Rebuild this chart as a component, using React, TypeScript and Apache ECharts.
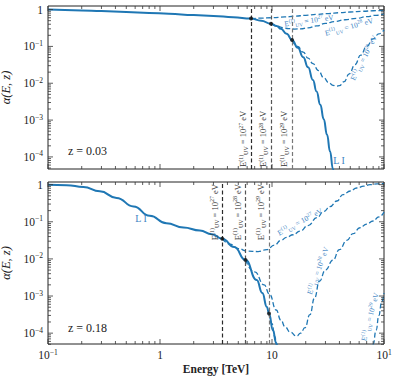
import React, { useEffect, useRef } from 'react';
import * as echarts from 'echarts';

const BLUE = '#1f77b4';
const LABEL_BLUE = '#3d84c4';
const SERIF = '"Liberation Serif", "DejaVu Serif", serif';

// ---------- axes ----------
const X_MIN = 0.1;
const X_MAX = 100;
const X_MAJOR = [0.1, 1, 10, 100];
const X_MINOR = [0.2, 0.3, 0.4, 0.5, 0.6, 0.7, 0.8, 0.9, 2, 3, 4, 5, 6, 7, 8, 9, 20, 30, 40, 50, 60, 70, 80, 90];
const X_LABELS: Record<string, string> = { '-1': '{b|10}{s|−1}', '0': '{b|1}', '1': '{b|10}', '2': '{b|10}{s|1}' };

const Y_MAJOR = [1e-4, 1e-3, 1e-2, 1e-1, 1];
const Y_MINOR = [
  5e-5, 6e-5, 7e-5, 8e-5, 9e-5,
  2e-4, 3e-4, 4e-4, 5e-4, 6e-4, 7e-4, 8e-4, 9e-4,
  2e-3, 3e-3, 4e-3, 5e-3, 6e-3, 7e-3, 8e-3, 9e-3,
  0.02, 0.03, 0.04, 0.05, 0.06, 0.07, 0.08, 0.09,
  0.2, 0.3, 0.4, 0.5, 0.6, 0.7, 0.8, 0.9,
];
const Y_LABELS: Record<string, string> = {
  '0': '{b|1}', '-1': '{b|10}{s|−1}', '-2': '{b|10}{s|−2}', '-3': '{b|10}{s|−3}', '-4': '{b|10}{s|−4}',
};
const TOP_Y_RANGE = [4.7e-5, 1.25];
const BOT_Y_RANGE = [5.1e-5, 1.18];

// ---------- top panel, z = 0.03 ----------
const TOP_LI_E = [0.1, 0.2, 0.3, 0.5, 0.8, 1.2, 2, 3, 4.5, 6.5, 8, 9.8, 11, 12, 13.5, 15.1, 17, 19, 21, 23.2, 25, 27, 29, 31, 33, 35, 37];
const TOP_LI = [1.0, 0.95, 0.91, 0.86, 0.81, 0.77, 0.71, 0.67, 0.62, 0.57, 0.50, 0.41, 0.36, 0.30, 0.22, 0.15, 0.092, 0.051, 0.027, 0.0123, 0.006, 0.0026, 0.00105, 0.0004, 0.00014, 0.000047, 0.000014];
const TOP_D27_E = [6.5, 8, 10, 13, 16, 20, 25, 32, 40, 50, 65, 80, 100];
const TOP_D27 = [0.57, 0.585, 0.60, 0.63, 0.66, 0.70, 0.74, 0.78, 0.82, 0.86, 0.90, 0.93, 0.96];
const TOP_D28_E = [9.8, 11, 12.5, 14, 16, 18, 21, 25, 30, 36, 45, 57, 70, 85, 100];
const TOP_D28 = [0.41, 0.36, 0.325, 0.305, 0.295, 0.30, 0.32, 0.36, 0.42, 0.47, 0.53, 0.58, 0.64, 0.70, 0.76];
const TOP_D29_E = [15.1, 17, 19, 21, 23.2, 26, 29, 32, 35, 37.5, 40, 44, 49, 55, 62, 70, 80, 90, 100];
const TOP_D29 = [0.15, 0.10, 0.07, 0.048, 0.034, 0.022, 0.014, 0.0105, 0.0088, 0.0083, 0.0086, 0.011, 0.018, 0.032, 0.058, 0.10, 0.16, 0.22, 0.28];
const TOP_CUT_E = [6.5, 9.8, 15.1];
const TOP_CUT_VAL = [0.57, 0.41, 0.15];
// curve-label anchors [E, alpha, rotation]
const TOP_LABEL_POS = [[21.4, 0.5, 8], [48.7, 0.34, 15], [66, 0.049, 63]];
const TOP_LI_LABEL = [39.6, 7.9e-5];

// ---------- bottom panel, z = 0.18 ----------
const BOT_LI_E = [0.1, 0.147, 0.207, 0.29, 0.41, 0.58, 0.81, 1.14, 1.62, 2.27, 2.9, 3.6, 4.6, 5.8, 7.3, 8.2, 9.0, 9.4, 10.2, 10.9, 11.5];
const BOT_LI = [1.0, 0.97, 0.87, 0.66, 0.44, 0.26, 0.145, 0.092, 0.07, 0.058, 0.046, 0.035, 0.021, 0.0093, 0.0027, 0.0012, 0.00051, 0.00034, 0.00012, 0.000054, 0.000022];
const BOT_D27_E = [3.6, 4.2, 5, 6, 7.5, 9, 10.5, 12, 13.5, 15.4, 17.8, 21, 25.2, 29, 33, 38, 43, 50, 57, 66, 75, 87, 100];
const BOT_D27 = [0.035, 0.025, 0.019, 0.0162, 0.0158, 0.0178, 0.0234, 0.0316, 0.038, 0.0447, 0.056, 0.079, 0.129, 0.19, 0.257, 0.363, 0.537, 0.676, 0.813, 0.912, 1.0, 1.047, 1.07];
const BOT_D28_E = [5.8, 7, 8.5, 9.5, 10.9, 12, 13.1, 14.5, 16.6, 18, 19.7, 21.8, 24, 26.5, 30, 35, 40, 46.6, 53, 61, 70, 80, 90, 100];
const BOT_D28 = [0.0093, 0.0045, 0.002, 0.00112, 0.00042, 0.000224, 0.000148, 0.000107, 0.000083, 0.0001, 0.000141, 0.000316, 0.00089, 0.0025, 0.005, 0.0093, 0.0178, 0.0316, 0.0479, 0.069, 0.087, 0.105, 0.135, 0.182];
const BOT_D29_E = [9.4, 10, 10.6, 11.2, 12, 13, 20, 40, 60, 70, 75, 80, 85, 90, 95, 100];
const BOT_D29 = [0.00034, 0.00018, 0.00008, 0.00003, 0.00001, 0.000003, 1e-6, 1e-6, 3e-6, 1e-5, 2.5e-5, 5e-5, 1.2e-4, 3e-4, 6.5e-4, 0.0012];
const BOT_CUT_E = [3.6, 5.8, 9.4];
const BOT_CUT_VAL = [0.035, 0.0093, 0.00034];
const BOT_LABEL_POS = [[17.8, 0.1, 28], [25.7, 0.0048, 70], [75, 2.75e-4, 75]];
const BOT_LI_LABEL = [0.676, 0.12];

const CUT_EXP = ['27', '28', '29'];
const CUT_COLORS = ['#2a2a2a', '#555555', '#777777'];

const zip = (xs: number[], ys: number[]) => xs.map((x, i) => [x, ys[i]]);

const euvText = (exp: string) => `{e|E}{p|(1)}{u|UV}{e| = 10}{p|${exp}}{e| eV}`;

const euvRich = (color: string, size: number) => ({
  e: { fontFamily: SERIF, fontSize: size, color, lineHeight: size + 3 },
  p: { fontFamily: SERIF, fontSize: size * 0.7, color, verticalAlign: 'top', lineHeight: size * 0.7 },
  u: { fontFamily: SERIF, fontSize: size * 0.7, color, verticalAlign: 'bottom', lineHeight: size * 0.7 },
});

const tickRich = {
  b: { fontFamily: SERIF, fontSize: 11.5, color: '#222', lineHeight: 14 },
  s: { fontFamily: SERIF, fontSize: 7.5, color: '#222', verticalAlign: 'top', lineHeight: 8 },
};

function tickSeries(idx: number) {
  const data: number[][] = [];
  X_MAJOR.forEach((v) => data.push([v, 0.01, 0, 1]));
  X_MINOR.forEach((v) => data.push([v, 0.01, 0, 0]));
  Y_MAJOR.forEach((v) => data.push([1, v, 1, 1]));
  Y_MINOR.forEach((v) => data.push([1, v, 1, 0]));
  return {
    type: 'custom',
    xAxisIndex: idx,
    yAxisIndex: idx,
    silent: true,
    z: 5,
    data,
    renderItem: (params: any, api: any) => {
      const cs = params.coordSys;
      const kind = api.value(2);
      const len = api.value(3) ? 5 : 3;
      const style = { stroke: '#333', lineWidth: 0.8 };
      if (kind === 0) {
        const px = api.coord([api.value(0), 0.01])[0];
        if (px < cs.x - 0.5 || px > cs.x + cs.width + 0.5) return null;
        const yb = cs.y + cs.height;
        return {
          type: 'group',
          children: [
            { type: 'line', shape: { x1: px, y1: yb, x2: px, y2: yb - len }, style },
            { type: 'line', shape: { x1: px, y1: cs.y, x2: px, y2: cs.y + len }, style },
          ],
        };
      }
      const py = api.coord([1, api.value(1)])[1];
      if (py < cs.y - 0.5 || py > cs.y + cs.height + 0.5) return null;
      const xr = cs.x + cs.width;
      return {
        type: 'group',
        children: [
          { type: 'line', shape: { x1: cs.x, y1: py, x2: cs.x + len, y2: py }, style },
          { type: 'line', shape: { x1: xr, y1: py, x2: xr - len, y2: py }, style },
        ],
      };
    },
  };
}

function panelSeries(
  idx: number,
  li: number[][],
  dashed: number[][][],
  cutE: number[],
  cutVal: number[],
  labelPos: number[][],
  liLabel: number[],
  cutLabelPos: string,
) {
  const series: any[] = [];
  series.push({
    type: 'line',
    xAxisIndex: idx,
    yAxisIndex: idx,
    data: li,
    showSymbol: false,
    smooth: true,
    smoothMonotone: 'x',
    lineStyle: { color: BLUE, width: 2 },
    z: 3,
    markPoint: {
      silent: true,
      symbol: 'circle',
      symbolSize: 0,
      data: [{ coord: liLabel }],
      label: { show: true, formatter: 'L I', color: LABEL_BLUE, fontFamily: SERIF, fontSize: 10, position: 'inside' },
    },
  });
  dashed.forEach((d, i) => {
    series.push({
      type: 'line',
      xAxisIndex: idx,
      yAxisIndex: idx,
      data: d,
      showSymbol: false,
      smooth: true,
      smoothMonotone: 'x',
      lineStyle: { color: BLUE, width: 1.3, type: [5, 2.5] },
      z: 3,
      markPoint: {
        silent: true,
        symbol: 'circle',
        symbolSize: 0,
        data: [{ coord: [labelPos[i][0], labelPos[i][1]] }],
        label: {
          show: true,
          position: 'inside',
          rotate: labelPos[i][2],
          formatter: euvText(CUT_EXP[i]),
          rich: euvRich(LABEL_BLUE, 7.5),
        },
      },
    });
  });
  series.push({
    type: 'scatter',
    xAxisIndex: idx,
    yAxisIndex: idx,
    data: zip(cutE, cutVal),
    symbolSize: 4,
    itemStyle: { color: '#111' },
    z: 6,
    markLine: {
      silent: true,
      symbol: ['none', 'none'],
      lineStyle: { type: [4, 2.5], width: 1.2 },
      label: {
        show: true,
        position: cutLabelPos,
        distance: 2,
        formatter: (p: any) => euvText(CUT_EXP[p.dataIndex]),
        rich: euvRich('#333', 8.5),
      },
      data: cutE.map((e, i) => ({ xAxis: e, lineStyle: { color: CUT_COLORS[i] } })),
    },
  });
  series.push(tickSeries(idx));
  return series;
}

function xAxisOf(idx: number, showLabels: boolean) {
  return {
    type: 'log',
    logBase: 10,
    gridIndex: idx,
    min: X_MIN,
    max: X_MAX,
    axisLine: { show: false },
    axisTick: { show: false },
    splitLine: { show: false },
    axisLabel: {
      show: showLabels,
      margin: 4,
      formatter: (v: number) => {
        const e = Math.log10(v);
        const r = Math.round(e);
        if (Math.abs(e - r) > 1e-6) return '';
        return X_LABELS[String(r)] ?? '';
      },
      rich: tickRich,
    },
    name: showLabels ? 'Energy [TeV]' : '',
    nameLocation: 'middle',
    nameGap: 19,
    nameTextStyle: { fontFamily: SERIF, fontSize: 11.5, fontWeight: 'bold', color: '#222' },
  };
}

function yAxisOf(idx: number, range: number[]) {
  return {
    type: 'log',
    logBase: 10,
    gridIndex: idx,
    min: range[0],
    max: range[1],
    axisLine: { show: false },
    axisTick: { show: false },
    splitLine: { show: false },
    axisLabel: {
      margin: 5,
      formatter: (v: number) => {
        const e = Math.log10(v);
        const r = Math.round(e);
        if (Math.abs(e - r) > 1e-6) return '';
        return Y_LABELS[String(r)] ?? '';
      },
      rich: tickRich,
    },
    name: 'α(E, z)',
    nameLocation: 'middle',
    nameRotate: 90,
    nameGap: 30,
    nameTextStyle: { fontFamily: SERIF, fontSize: 12.5, fontStyle: 'italic', color: '#222' },
  };
}

export default function App() {
  const ref = useRef<HTMLDivElement>(null);
  useEffect(() => {
    if (!ref.current) return;
    const chart = echarts.init(ref.current, undefined, { renderer: 'svg' });
    const gridBase = {
      left: 48, width: 336, show: true, borderColor: '#222', borderWidth: 1,
      backgroundColor: 'transparent', containLabel: false, outerBoundsMode: 'none',
    };
    const option: any = {
      animation: false,
      backgroundColor: '#ffffff',
      grid: [
        { ...gridBase, top: 6, height: 163 },
        { ...gridBase, top: 182, height: 162 },
      ],
      xAxis: [xAxisOf(0, false), xAxisOf(1, true)],
      yAxis: [yAxisOf(0, TOP_Y_RANGE), yAxisOf(1, BOT_Y_RANGE)],
      graphic: [
        { type: 'text', left: 68, top: 145, style: { text: 'z = 0.03', fontFamily: SERIF, fontSize: 12, fill: '#222' } },
        { type: 'text', left: 68, top: 322, style: { text: 'z = 0.18', fontFamily: SERIF, fontSize: 12, fill: '#222' } },
      ],
      series: [
        ...panelSeries(0, zip(TOP_LI_E, TOP_LI), [zip(TOP_D27_E, TOP_D27), zip(TOP_D28_E, TOP_D28), zip(TOP_D29_E, TOP_D29)], TOP_CUT_E, TOP_CUT_VAL, TOP_LABEL_POS, TOP_LI_LABEL, 'insideStartTop'),
        ...panelSeries(1, zip(BOT_LI_E, BOT_LI), [zip(BOT_D27_E, BOT_D27), zip(BOT_D28_E, BOT_D28), zip(BOT_D29_E, BOT_D29)], BOT_CUT_E, BOT_CUT_VAL, BOT_LABEL_POS, BOT_LI_LABEL, 'insideEndTop'),
      ],
    };
    chart.setOption(option);
    return () => chart.dispose();
  }, []);
  return <div ref={ref} style={{ position: 'fixed', left: 0, top: 0, width: 399, height: 378 }} />;
}
